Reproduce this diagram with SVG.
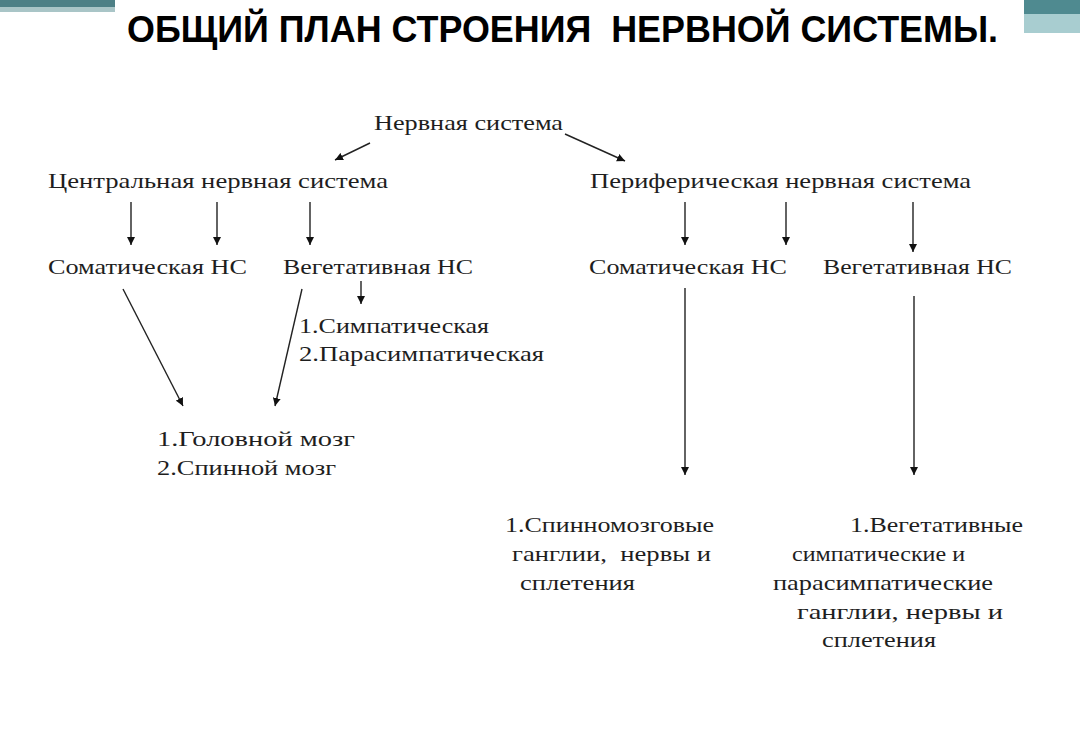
<svg xmlns="http://www.w3.org/2000/svg" width="1080" height="730" viewBox="0 0 1080 730">
<style>
.t{font-family:"Liberation Serif","Times New Roman",serif;font-size:22px;fill:#1e1e1e}
.h{font-family:"Liberation Sans",Arial,sans-serif;font-size:37px;font-weight:bold;fill:#000}
.p{white-space:pre}
.c{stroke:#222;stroke-width:1.4;fill:none;marker-end:url(#ah)}
</style>
<defs>
<marker id="ah" viewBox="0 0 10 10" refX="10" refY="5" markerWidth="8" markerHeight="8" markerUnits="userSpaceOnUse" orient="auto">
<path d="M0,0 L10,5 L0,10 Z" fill="#111"/>
</marker>
</defs>
<rect width="1080" height="730" fill="#fff"/>
<g id="deco">
<rect x="0" y="0" width="115" height="7" fill="#4d8086"/>
<rect x="0" y="7" width="115" height="5" fill="#a9c5c7"/>
<rect x="1024" y="0" width="56" height="14" fill="#4f8a90"/>
<rect x="1024" y="14" width="56" height="19" fill="#a8cdd0"/>
</g>
<g id="title"><text class="h p" xml:space="preserve" x="127" y="42" textLength="871" lengthAdjust="spacingAndGlyphs">ОБЩИЙ ПЛАН СТРОЕНИЯ  НЕРВНОЙ СИСТЕМЫ.</text></g>
<g id="n-root"><text class="t" x="374" y="130" textLength="189" lengthAdjust="spacingAndGlyphs">Нервная система</text></g>
<g id="n-cns"><text class="t" x="48" y="188" textLength="340" lengthAdjust="spacingAndGlyphs">Центральная нервная система</text></g>
<g id="n-pns"><text class="t" x="590" y="188" textLength="381" lengthAdjust="spacingAndGlyphs">Периферическая нервная система</text></g>
<g id="n-som1"><text class="t" x="48" y="274" textLength="199" lengthAdjust="spacingAndGlyphs">Соматическая НС</text></g>
<g id="n-veg1"><text class="t" x="283" y="274" textLength="190" lengthAdjust="spacingAndGlyphs">Вегетативная НС</text></g>
<g id="n-som2"><text class="t" x="589" y="274" textLength="198" lengthAdjust="spacingAndGlyphs">Соматическая НС</text></g>
<g id="n-veg2"><text class="t" x="823" y="274" textLength="189" lengthAdjust="spacingAndGlyphs">Вегетативная НС</text></g>
<g id="n-types">
<text class="t" x="299" y="333" textLength="190" lengthAdjust="spacingAndGlyphs">1.Симпатическая</text>
<text class="t" x="299" y="361" textLength="245" lengthAdjust="spacingAndGlyphs">2.Парасимпатическая</text>
</g>
<g id="n-brain">
<text class="t" x="157" y="446" textLength="198" lengthAdjust="spacingAndGlyphs">1.Головной мозг</text>
<text class="t" x="157" y="475" textLength="179" lengthAdjust="spacingAndGlyphs">2.Спинной мозг</text>
</g>
<g id="n-spinal">
<text class="t" x="505" y="532" textLength="209" lengthAdjust="spacingAndGlyphs">1.Спинномозговые</text>
<text class="t p" xml:space="preserve" x="512" y="561" textLength="199" lengthAdjust="spacingAndGlyphs">ганглии,  нервы и</text>
<text class="t" x="520" y="590" textLength="115" lengthAdjust="spacingAndGlyphs">сплетения</text>
</g>
<g id="n-autonomic">
<text class="t" x="850" y="532" textLength="173" lengthAdjust="spacingAndGlyphs">1.Вегетативные</text>
<text class="t" x="792" y="561" textLength="173" lengthAdjust="spacingAndGlyphs">симпатические и</text>
<text class="t" x="773" y="590" textLength="220" lengthAdjust="spacingAndGlyphs">парасимпатические</text>
<text class="t" x="797" y="619" textLength="206" lengthAdjust="spacingAndGlyphs">ганглии, нервы и</text>
<text class="t" x="822" y="647" textLength="114" lengthAdjust="spacingAndGlyphs">сплетения</text>
</g>
<g id="connectors">
<line class="c" x1="370" y1="143" x2="335" y2="160"/>
<line class="c" x1="565" y1="134" x2="625" y2="161"/>
<line class="c" x1="131" y1="202" x2="131" y2="245"/>
<line class="c" x1="217" y1="202" x2="217" y2="245"/>
<line class="c" x1="310" y1="202" x2="310" y2="245"/>
<line class="c" x1="361" y1="281" x2="361" y2="304"/>
<line class="c" x1="123" y1="289" x2="183" y2="406"/>
<line class="c" x1="302" y1="289" x2="275" y2="406"/>
<line class="c" x1="685" y1="202" x2="685" y2="245"/>
<line class="c" x1="786" y1="202" x2="786" y2="245"/>
<line class="c" x1="913" y1="202" x2="913" y2="252"/>
<line class="c" x1="685" y1="288" x2="685" y2="475"/>
<line class="c" x1="914" y1="296" x2="914" y2="475"/>
</g>
</svg>
